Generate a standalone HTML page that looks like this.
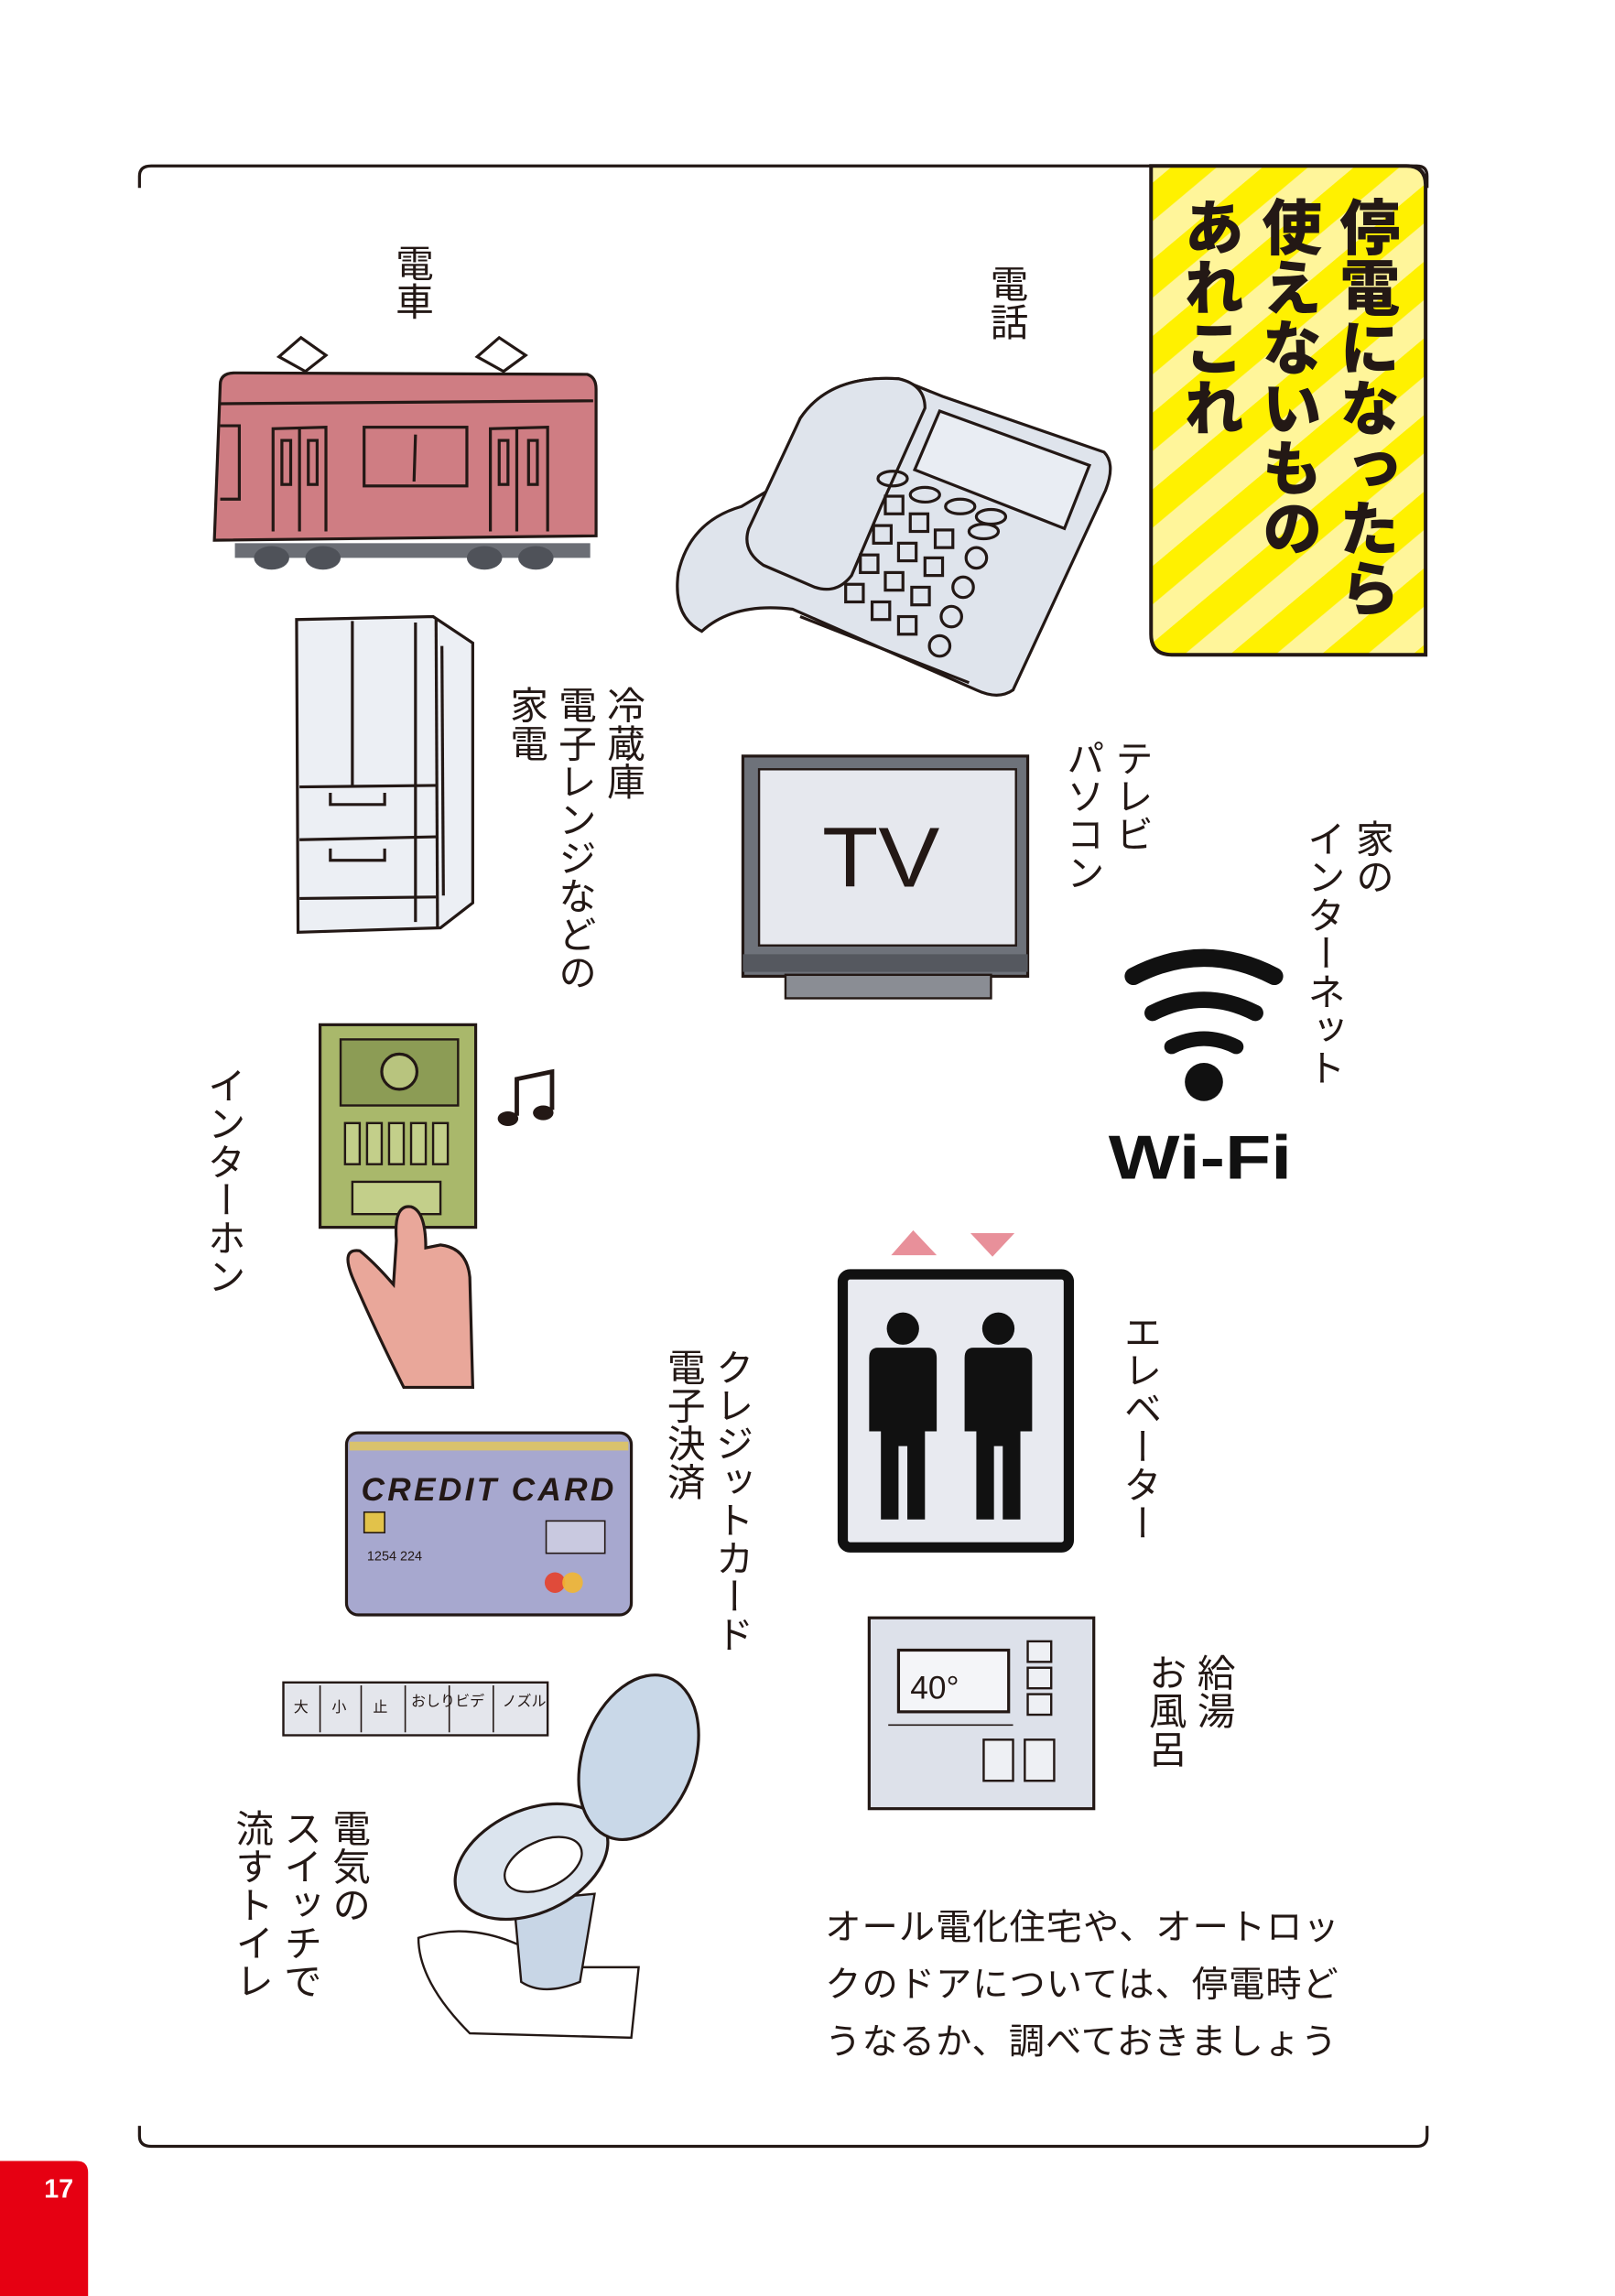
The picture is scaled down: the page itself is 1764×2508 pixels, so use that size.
<!DOCTYPE html>
<html><head><meta charset="utf-8">
<style>
html,body{margin:0;padding:0;background:#fff;}
#w{position:relative;width:1764px;height:2508px;overflow:hidden;}
#s{position:absolute;left:0;top:0;width:1100px;height:1564px;transform:scale(1.60364);transform-origin:0 0;}
.v{position:absolute;writing-mode:vertical-rl;font-family:"Liberation Sans","Noto Sans CJK JP",sans-serif;font-size:26px;line-height:33px;color:#231815;letter-spacing:0px;white-space:nowrap;}
.t{position:absolute;writing-mode:vertical-rl;font-family:"Liberation Sans","Noto Sans CJK JP",sans-serif;font-weight:900;font-size:41px;line-height:53px;color:#231815;white-space:nowrap;}
.h{position:absolute;font-family:"Liberation Sans","Noto Sans CJK JP",sans-serif;font-size:24.5px;line-height:39px;letter-spacing:0.6px;color:#231815;white-space:nowrap;}
svg{position:absolute;left:0;top:0;}
</style></head><body><div id="w"><div id="s">
<svg width="1100" height="1564" viewBox="0 0 1100 1564">
<defs>
<pattern id="st" patternUnits="userSpaceOnUse" width="40" height="40" patternTransform="rotate(-40)">
<rect width="40" height="40" fill="#fff59a"/><rect width="40" height="20" fill="#fff100"/>
</pattern>
</defs>
<path d="M95,128 L95,120 Q95,113 103,113 L965,113 Q972,113 972,120 L972,128" fill="none" stroke="#231815" stroke-width="2"/>
<path d="M95,1448 L95,1455 Q95,1462 103,1462 L965,1462 Q972,1462 972,1455 L972,1448" fill="none" stroke="#231815" stroke-width="2"/>
<path d="M784,113 L958,113 Q971,113 971,126 L971,446 L798,446 Q784,446 784,432 Z" fill="url(#st)" stroke="#231815" stroke-width="2.5"/>
<path d="M0,1472 L52,1472 Q60,1472 60,1480 L60,1568 L0,1568 Z" fill="#e60012"/>
<text x="40" y="1497" font-family="Liberation Sans" font-weight="bold" font-size="18" fill="#fff" text-anchor="middle">17</text>

<path d="M190,243 L205,230 L222,242 L208,253 Z M325,243 L340,230 L358,242 L343,253 Z" fill="#fff" stroke="#231815" stroke-width="2"/>
<path d="M150,262 Q150,254 160,254 L400,255 Q406,257 406,265 L406,365 L146,368 Z" fill="#cf7d83" stroke="#231815" stroke-width="2"/>
<line x1="150" y1="275" x2="404" y2="273" stroke="#231815" stroke-width="2"/>
<rect x="160" y="370" width="242" height="10" fill="#6b6e75"/>
<ellipse cx="185" cy="380" rx="12" ry="8" fill="#4f5259"/><ellipse cx="220" cy="380" rx="12" ry="8" fill="#4f5259"/>
<ellipse cx="330" cy="380" rx="12" ry="8" fill="#4f5259"/><ellipse cx="365" cy="380" rx="12" ry="8" fill="#4f5259"/>
<g fill="none" stroke="#231815" stroke-width="2">
<path d="M186,362 L186,292 L222,291 L222,362"/><path d="M204,291 L204,362"/>
<rect x="192" y="300" width="6" height="30"/><rect x="210" y="300" width="6" height="30"/>
<rect x="248" y="291" width="70" height="40"/><line x1="283" y1="296" x2="282" y2="328"/>
<path d="M334,362 L334,292 L373,291 L373,362"/><path d="M352,292 L352,362"/>
<rect x="340" y="300" width="6" height="30"/><rect x="360" y="300" width="6" height="30"/>
<path d="M150,290 L163,290 L163,340 L150,340"/>
</g>

<path d="M545,285 Q565,255 612,258 L642,270 L752,308 Q760,316 753,334 L690,470 Q680,477 665,470 L540,415 Q500,410 478,430 Q458,420 462,390 Q470,355 505,345 L530,330 Z" fill="#dfe4ec" stroke="#231815" stroke-width="2"/>
<path d="M545,285 Q565,255 612,258 Q630,262 630,278 L600,345 L580,392 Q570,405 555,400 L520,385 Q505,375 510,360 Z" fill="#dfe4ec" stroke="#231815" stroke-width="2"/>
<path d="M640,280 L742,317 L725,360 L623,320 Z" fill="#e9edf3" stroke="#231815" stroke-width="2"/>
<g fill="none" stroke="#231815" stroke-width="2">
<ellipse cx="608" cy="326" rx="10" ry="5"/><ellipse cx="630" cy="337" rx="10" ry="5"/><ellipse cx="654" cy="345" rx="10" ry="5"/><ellipse cx="675" cy="352" rx="10" ry="5"/><ellipse cx="670" cy="362" rx="10" ry="5"/>
<rect x="603" y="338" width="12" height="12"/><rect x="620" y="350" width="12" height="12"/><rect x="637" y="361" width="12" height="12"/>
<rect x="595" y="358" width="12" height="12"/><rect x="612" y="370" width="12" height="12"/><rect x="630" y="380" width="12" height="12"/>
<rect x="586" y="378" width="12" height="12"/><rect x="603" y="390" width="12" height="12"/><rect x="621" y="400" width="12" height="12"/>
<rect x="576" y="398" width="12" height="12"/><rect x="594" y="410" width="12" height="12"/><rect x="612" y="420" width="12" height="12"/>
<circle cx="665" cy="380" r="7"/><circle cx="656" cy="400" r="7"/><circle cx="648" cy="420" r="7"/><circle cx="640" cy="440" r="7"/>
<path d="M545,420 L660,465"/>
</g>

<path d="M202,422 L295,420 L322,438 L322,615 L300,632 L203,635 Z" fill="#eceff4" stroke="#231815" stroke-width="2"/>
<g fill="none" stroke="#231815" stroke-width="2">
<line x1="297" y1="422" x2="298" y2="632"/><line x1="283" y1="424" x2="283" y2="628"/>
<line x1="301" y1="440" x2="302" y2="610"/>
<line x1="240" y1="423" x2="240" y2="535"/>
<line x1="204" y1="536" x2="297" y2="535"/><line x1="204" y1="572" x2="297" y2="570"/><line x1="204" y1="612" x2="297" y2="611"/>
<path d="M225,540 L225,548 L262,548 L262,540"/><path d="M225,578 L225,586 L262,586 L262,578"/>
</g>

<rect x="506" y="515" width="194" height="150" fill="#6e727a" stroke="#231815" stroke-width="2"/>
<rect x="517" y="524" width="175" height="120" fill="#e6e8ee" stroke="#231815" stroke-width="1.5"/>
<rect x="506" y="650" width="194" height="12" fill="#55585f"/>
<rect x="535" y="664" width="140" height="16" fill="#8a8d94" stroke="#231815" stroke-width="1.5"/>
<text x="560" y="604" font-family="Liberation Sans Narrow,Liberation Sans" font-size="58" fill="#231815" textLength="80" lengthAdjust="spacingAndGlyphs">TV</text>

<g fill="none" stroke="#111" stroke-linecap="round">
<path d="M772,665 Q820,640 868,665" stroke-width="12"/>
<path d="M785,690 Q820,672 855,690" stroke-width="11"/>
<path d="M798,713 Q820,702 842,713" stroke-width="10"/>
</g>
<circle cx="820" cy="737" r="13" fill="#111"/>
<text x="755" y="803" font-family="Liberation Sans" font-weight="bold" font-size="42" fill="#111" textLength="125" lengthAdjust="spacingAndGlyphs">Wi-Fi</text>

<rect x="218" y="698" width="106" height="138" fill="#a9b86b" stroke="#231815" stroke-width="2"/>
<rect x="232" y="708" width="80" height="45" fill="#8c9c55" stroke="#231815" stroke-width="1.5"/>
<circle cx="272" cy="730" r="12" fill="#b8c47e" stroke="#231815" stroke-width="2"/>
<g fill="#c3cf8a" stroke="#231815" stroke-width="1.5">
<rect x="235" y="765" width="10" height="28"/><rect x="250" y="765" width="10" height="28"/><rect x="265" y="765" width="10" height="28"/><rect x="280" y="765" width="10" height="28"/><rect x="295" y="765" width="10" height="28"/>
<rect x="240" y="805" width="60" height="22"/>
</g>
<path d="M270,845 Q268,820 280,822 Q290,825 290,850 L300,848 Q318,850 320,870 L322,945 L275,945 Q255,905 240,870 Q232,850 245,852 Q255,860 268,875 Z" fill="#e9a79a" stroke="#231815" stroke-width="2"/>
<path d="M352,760 L352,735 L376,730 L376,756 M352,735 L376,730" fill="none" stroke="#231815" stroke-width="3"/>
<ellipse cx="346" cy="762" rx="7" ry="5" fill="#231815"/><ellipse cx="370" cy="758" rx="7" ry="5" fill="#231815"/>

<path d="M607,855 L622,838 L638,855 Z M661,840 L691,840 L676,856 Z" fill="#e8909a"/>
<rect x="574" y="868" width="154" height="186" rx="5" fill="#e8eaf0" stroke="#111" stroke-width="7"/>
<g fill="#111">
<circle cx="615" cy="905" r="11"/><path d="M598,918 L632,918 Q638,918 638,925 L638,975 L630,975 L630,1035 L618,1035 L618,985 L612,985 L612,1035 L600,1035 L600,975 L592,975 L592,925 Q592,918 598,918 Z"/>
<circle cx="680" cy="905" r="11"/><path d="M663,918 L697,918 Q703,918 703,925 L703,975 L695,975 L695,1035 L683,1035 L683,985 L677,985 L677,1035 L665,1035 L665,975 L657,975 L657,925 Q657,918 663,918 Z"/>
</g>

<rect x="236" y="976" width="194" height="124" rx="8" fill="#a7a8cf" stroke="#231815" stroke-width="2"/>
<rect x="238" y="982" width="190" height="6" fill="#d9c26d"/>
<text x="246" y="1022" font-family="Liberation Sans" font-weight="bold" font-style="italic" font-size="22" fill="#231815" textLength="172">CREDIT CARD</text>
<rect x="248" y="1030" width="14" height="14" fill="#e2c24a" stroke="#231815"/>
<rect x="372" y="1036" width="40" height="22" fill="#c9c9e0" stroke="#231815"/>
<text x="250" y="1063" font-family="Liberation Sans" font-size="9" fill="#231815">1254 224</text>
<circle cx="378" cy="1078" r="7" fill="#e04b3a"/><circle cx="390" cy="1078" r="7" fill="#f2b632" opacity=".9"/>

<rect x="592" y="1102" width="153" height="130" fill="#dde1ea" stroke="#231815" stroke-width="2"/>
<rect x="612" y="1124" width="75" height="42" fill="#f4f5f8" stroke="#231815" stroke-width="2"/>
<text x="620" y="1157" font-family="Liberation Sans" font-size="22" fill="#231815">40°</text>
<g fill="#eef0f4" stroke="#231815" stroke-width="1.5">
<rect x="700" y="1118" width="16" height="14"/><rect x="700" y="1136" width="16" height="14"/><rect x="700" y="1154" width="16" height="14"/>
<rect x="670" y="1185" width="20" height="28"/><rect x="698" y="1185" width="20" height="28"/>
</g>
<line x1="605" y1="1175" x2="690" y2="1175" stroke="#231815"/>

<rect x="193" y="1146" width="180" height="36" fill="#e4e6ec" stroke="#231815" stroke-width="1.5"/>
<g stroke="#231815" stroke-width="1"><line x1="218" y1="1148" x2="218" y2="1180"/><line x1="246" y1="1148" x2="246" y2="1180"/><line x1="276" y1="1148" x2="276" y2="1180"/><line x1="306" y1="1148" x2="306" y2="1180"/><line x1="336" y1="1148" x2="336" y2="1180"/></g>
<g font-family="Liberation Sans,Noto Sans CJK JP,sans-serif" font-size="10" fill="#231815"><text x="200" y="1166">大</text><text x="226" y="1166">小</text><text x="254" y="1166">止</text><text x="280" y="1162">おしり</text><text x="310" y="1162">ビデ</text><text x="342" y="1162">ノズル</text></g>
<path d="M285,1320 Q330,1305 380,1340 L435,1340 L430,1388 L320,1385 Q285,1350 285,1320 Z" fill="#fff" stroke="#231815" stroke-width="1.5"/>
<path d="M350,1295 L355,1350 Q370,1360 395,1350 L405,1290 Z" fill="#c8d6e6" stroke="#231815" stroke-width="1.5"/>
<ellipse cx="362" cy="1268" rx="55" ry="35" transform="rotate(-25 362 1268)" fill="#dbe4ee" stroke="#231815" stroke-width="2"/>
<ellipse cx="370" cy="1270" rx="28" ry="16" transform="rotate(-25 370 1270)" fill="#fff" stroke="#231815" stroke-width="1.5"/>
<ellipse cx="435" cy="1197" rx="38" ry="58" transform="rotate(20 435 1197)" fill="#c9d8e8" stroke="#231815" stroke-width="2"/>
</svg>

<div class="t" style="left:902px;top:134px;">停電になったら</div>
<div class="t" style="left:849px;top:134px;">使えないもの</div>
<div class="t" style="left:796px;top:134px;">あれこれ</div>

<div class="v" style="left:264px;top:166px;">電車</div>
<div class="v" style="left:669px;top:180px;">電話</div>
<div class="v" style="left:342px;top:467px;">冷蔵庫<br>電子レンジなどの<br>家電</div>
<div class="v" style="left:721px;top:503px;">テレビ<br>パソコン</div>
<div class="v" style="left:885px;top:558px;">家の<br>インターネット</div>
<div class="v" style="left:136px;top:726px;">インターホン</div>
<div class="v" style="left:449px;top:918px;">クレジットカード<br>電子決済</div>
<div class="v" style="left:760px;top:894px;">エレベーター</div>
<div class="v" style="left:777px;top:1126px;">給湯<br>お風呂</div>
<div class="v" style="left:155px;top:1232px;">電気の<br>スイッチで<br>流すトイレ</div>

<div class="h" style="left:562px;top:1294px;">オール電化住宅や、オートロッ<br>クのドアについては、停電時ど<br>うなるか、調べておきましょう</div>
</div></div></body></html>
